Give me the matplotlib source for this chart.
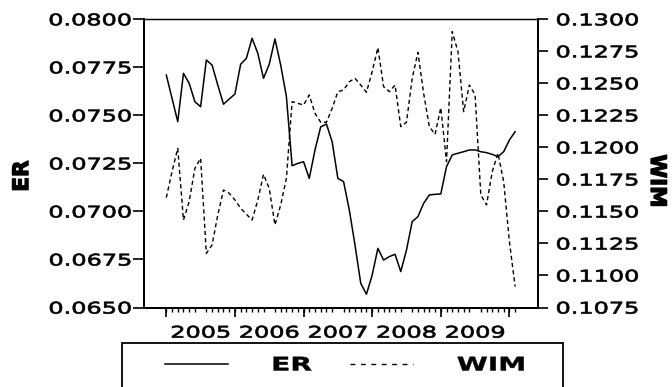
import matplotlib

matplotlib.use("Agg")
import matplotlib.pyplot as plt
import numpy as np
from matplotlib.lines import Line2D
from matplotlib.patches import Rectangle
from matplotlib.patheffects import AbstractPathEffect
from matplotlib.ticker import FormatStrFormatter
from matplotlib.transforms import Affine2D

plt.rcParams["font.family"] = ["DejaVu Sans"]

# monthly observations, Jan 2005 .. Feb 2010
years = ["2005", "2006", "2007", "2008", "2009"]
er = [0.07710, 0.07589, 0.07467, 0.07719, 0.07667, 0.07571, 0.07545, 0.07788, 0.07762, 0.07658,
      0.07558, 0.07585, 0.07611, 0.07766, 0.07797, 0.07901, 0.07823, 0.07693, 0.07766, 0.07898,
      0.07762, 0.07598, 0.07238, 0.07250, 0.07259, 0.07172, 0.07320, 0.07440, 0.07455, 0.07363,
      0.07172, 0.07155, 0.07008, 0.06825, 0.06626, 0.06569, 0.06669, 0.06808, 0.06747, 0.06765,
      0.06777, 0.06687, 0.06799, 0.06947, 0.06973, 0.07042, 0.07086, 0.07089, 0.07091, 0.07233,
      0.07294, 0.07303, 0.07311, 0.07320, 0.07320, 0.07311, 0.07306, 0.07297, 0.07285, 0.07311,
      0.07372, 0.07415]
wim = [0.11608, 0.11811, 0.11993, 0.11433, 0.11577, 0.11837, 0.11915, 0.11173, 0.11238, 0.11472,
       0.11668, 0.11642, 0.11590, 0.11525, 0.11478, 0.11433, 0.11589, 0.11790, 0.11680, 0.11394,
       0.11550, 0.11759, 0.12357, 0.12344, 0.12331, 0.12409, 0.12266, 0.12196, 0.12196, 0.12305,
       0.12435, 0.12448, 0.12513, 0.12539, 0.12487, 0.12430, 0.12591, 0.12779, 0.12474, 0.12435,
       0.12487, 0.12162, 0.12196, 0.12539, 0.12742, 0.12422, 0.12162, 0.12102, 0.12310, 0.11889,
       0.12904, 0.12748, 0.12279, 0.12487, 0.12409, 0.11629, 0.11551, 0.11811, 0.11954, 0.11733,
       0.11264, 0.10913]


class Widen(AbstractPathEffect):
    """Stretch text horizontally (the scanned original uses an extended face)."""

    def __init__(self, sx, anchor="center", thicken=0.0):
        super().__init__()
        self.sx, self.anchor, self.thicken = sx, anchor, thicken

    def draw_path(self, renderer, gc, tpath, affine, rgbFace=None):
        ext = tpath.get_extents(affine)
        px = {"left": ext.x0, "right": ext.x1, "center": (ext.x0 + ext.x1) / 2}[self.anchor]
        stretch = Affine2D().translate(-px, 0).scale(self.sx, 1).translate(px, 0)
        gc0 = renderer.new_gc()
        gc0.copy_properties(gc)
        gc0.set_linewidth(self.thicken)
        renderer.draw_path(gc0, tpath, affine + stretch, rgbFace)
        gc0.restore()


t = np.arange(len(er))

fig = plt.figure(figsize=(6.72, 3.87), dpi=100)
ax = fig.add_axes([0.2143, 0.2054, 0.5863, 0.7447])
ax2 = ax.twinx()

ax.plot(t, er, color="black", lw=1.1, ls="-")
ax2.plot(t, wim, color="black", lw=1.0, ls=(0, (3, 2.2)))

ax.set_xlim(-3.9, 65.0)
ax.set_ylim(0.065, 0.080)
ax2.set_ylim(0.1075, 0.130)
ax.set_yticks(np.arange(0.065, 0.08001, 0.0025))
ax2.set_yticks(np.arange(0.1075, 0.13001, 0.0025))
ax.yaxis.set_major_formatter(FormatStrFormatter("%.4f"))
ax2.yaxis.set_major_formatter(FormatStrFormatter("%.4f"))

# year labels at mid-year, monthly minor ticks, long ticks at year starts
ax.set_xticks(np.arange(6, 61, 12), labels=years)
ax.set_xticks(t, minor=True)
ax.tick_params(axis="x", which="major", length=0, pad=13, labelsize=11.5)
ax.tick_params(axis="x", which="minor", length=3, width=1.0)
sec = ax.secondary_xaxis("bottom")
sec.spines["bottom"].set_visible(False)
sec.set_xticks(np.arange(0, 61, 12), labels=[""] * 6)
sec.tick_params(length=6.5, width=1.2)

ax.tick_params(axis="y", length=8, width=1.2, pad=1, labelsize=11.5)
ax2.tick_params(axis="y", length=7, width=1.2, pad=6, labelsize=11.5)

for lbl in ax.get_xticklabels():
    lbl.set_path_effects([Widen(1.5, "center", 0.5)])
for lbl in ax.get_yticklabels():
    lbl.set_path_effects([Widen(1.5, "right", 0.5)])
for lbl in ax2.get_yticklabels():
    lbl.set_path_effects([Widen(1.5, "left", 0.5)])

for a in (ax, ax2):
    for side in ("left", "right", "bottom"):
        a.spines[side].set_linewidth(1.4)
    a.spines["top"].set_linewidth(0.9)

ax.set_ylabel("ER", fontsize=15.5, fontweight="bold")
ax.yaxis.set_label_coords(-0.284, 0.456)
ax2.set_ylabel("WIM", fontsize=15.5, fontweight="bold", rotation=270, va="center")
ax2.yaxis.set_label_coords(1.302, 0.439)
ax.yaxis.label.set_path_effects([Widen(1.0, "center", 0.9)])
ax2.yaxis.label.set_path_effects([Widen(1.0, "center", 0.9)])

# legend box along the bottom edge
fig.add_artist(Rectangle((122 / 672, -0.05), (563 - 122) / 672, (387 - 343) / 387 + 0.05,
                         transform=fig.transFigure, fill=False, lw=1.3, ec="black"))
fs = 13.5 * 100 / 72
handles = [Line2D([], [], color="black", lw=1.1, ls="-"),
           Line2D([], [], color="black", lw=1.0, ls=(0, (3.5, 4)))]
leg = fig.legend(handles, ["ER", "WIM"], loc="center left",
                 bbox_to_anchor=(165 / 672, 1 - 365 / 387), ncol=2, frameon=False,
                 borderpad=0, borderaxespad=0, handlelength=63 / fs, handletextpad=44 / fs,
                 columnspacing=2.71, prop={"size": 13.5, "weight": "bold"})
for txt in leg.get_texts():
    txt.set_path_effects([Widen(1.5, "left", 0.3)])

fig.savefig("out.png", dpi=100)
